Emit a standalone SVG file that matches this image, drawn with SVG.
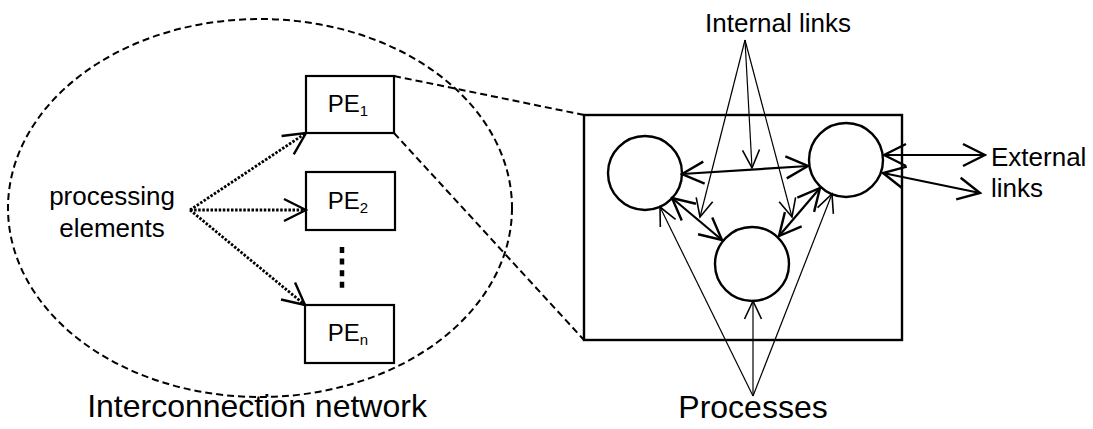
<svg xmlns="http://www.w3.org/2000/svg" width="1093" height="429" viewBox="0 0 1093 429">
  <style>
    text { font-family: "Liberation Sans", Arial, sans-serif; fill: #000; }
    .box { fill: #fff; stroke: #000; stroke-width: 2.2; }
    .proc { fill: #fff; stroke: #000; stroke-width: 2.4; }
    .dash { fill: none; stroke: #000; stroke-width: 2; stroke-dasharray: 7 4; }
    .dot { fill: none; stroke: #000; stroke-width: 2.8; stroke-dasharray: 2.5 1.6; }
    .link { fill: none; stroke: #000; stroke-width: 2.2; }
    .thin { fill: none; stroke: #000; stroke-width: 1.2; }
  </style>
  <defs>
    <marker id="vHead" viewBox="-26 -14 28 28" markerWidth="28" markerHeight="28" refX="0" refY="0" orient="auto-start-reverse" markerUnits="userSpaceOnUse">
      <path d="M-22,-11 L0,0 L-22,11" fill="none" stroke="#000" stroke-width="2.4" stroke-dasharray="none"/>
    </marker>
    <marker id="vHeadThin" viewBox="-22 -12 24 24" markerWidth="24" markerHeight="24" refX="0" refY="0" orient="auto-start-reverse" markerUnits="userSpaceOnUse">
      <path d="M-18,-8.5 L0,0 L-18,8.5" fill="none" stroke="#000" stroke-width="1.6"/>
    </marker>
  </defs>

  <!-- interconnection network boundary -->
  <g id="network">
    <ellipse cx="260" cy="208" rx="252" ry="189" class="dash"/>
    <text x="257" y="417" font-size="32" text-anchor="middle">Interconnection network</text>
  </g>

  <!-- zoom lines from PE1 to the detail view -->
  <g id="zoom-lines">
    <line x1="394" y1="76" x2="584" y2="115" class="dash"/>
    <line x1="394" y1="133" x2="584" y2="340" class="dash"/>
  </g>

  <g id="label-pe">
    <text x="112" y="205" font-size="26" text-anchor="middle">processing</text>
    <text x="112" y="237" font-size="26" text-anchor="middle">elements</text>
  </g>

  <g id="pe1">
    <rect x="306" y="76" width="88" height="57" class="box"/>
    <text x="348" y="112" font-size="24" text-anchor="middle">PE<tspan font-size="15" dy="4">1</tspan></text>
  </g>
  <g id="pe2">
    <rect x="306" y="172" width="89" height="58" class="box"/>
    <text x="348" y="209" font-size="24" text-anchor="middle">PE<tspan font-size="15" dy="4">2</tspan></text>
  </g>
  <g id="ellipsis">
    <line x1="342" y1="247" x2="342" y2="288" stroke="#000" stroke-width="4.5" stroke-dasharray="6 5.6"/>
  </g>
  <g id="pen">
    <rect x="305" y="305" width="89" height="58" class="box"/>
    <text x="348" y="341" font-size="24" text-anchor="middle">PE<tspan font-size="15" dy="4">n</tspan></text>
  </g>

  <!-- detail view of one processing element -->
  <g id="pe-detail">
    <rect x="584" y="115" width="318" height="225" fill="none" stroke="#000" stroke-width="2.4"/>
  </g>
  <g id="proc-left"><circle cx="645" cy="173" r="37" class="proc"/></g>
  <g id="proc-right"><circle cx="846" cy="160" r="37" class="proc"/></g>
  <g id="proc-bottom"><circle cx="752" cy="264" r="37" class="proc"/></g>

  <g id="label-internal">
    <text x="778" y="32" font-size="26" text-anchor="middle">Internal links</text>
  </g>
  <g id="label-external">
    <text x="991" y="166" font-size="26">External</text>
    <text x="991" y="197" font-size="26">links</text>
  </g>
  <g id="label-processes">
    <text x="753" y="418" font-size="32" text-anchor="middle">Processes</text>
  </g>

  <g id="connectors">
    <!-- dotted pointers to the processing elements -->
    <line x1="190" y1="210" x2="306" y2="133" class="dot" marker-end="url(#vHead)"/>
    <line x1="190" y1="210" x2="306" y2="210" class="dot" marker-end="url(#vHead)"/>
    <line x1="190" y1="210" x2="305" y2="305" class="dot" marker-end="url(#vHead)"/>

    <!-- internal links between processes -->
    <line x1="682" y1="174" x2="808" y2="166" class="link" marker-start="url(#vHead)" marker-end="url(#vHead)"/>
    <line x1="672" y1="198" x2="722" y2="240" class="link" marker-start="url(#vHead)" marker-end="url(#vHead)"/>
    <line x1="820" y1="188" x2="779" y2="236" class="link" marker-start="url(#vHead)" marker-end="url(#vHead)"/>

    <!-- external links -->
    <line x1="884" y1="155" x2="985" y2="155" class="link" marker-start="url(#vHead)" marker-end="url(#vHead)"/>
    <line x1="883" y1="173" x2="980" y2="193" class="link" marker-start="url(#vHead)" marker-end="url(#vHead)"/>

    <!-- "Internal links" pointers -->
    <line x1="745" y1="40" x2="700" y2="217" class="thin" marker-end="url(#vHeadThin)"/>
    <line x1="745" y1="40" x2="752" y2="168" class="thin" marker-end="url(#vHeadThin)"/>
    <line x1="745" y1="40" x2="792" y2="217" class="thin" marker-end="url(#vHeadThin)"/>

    <!-- "Processes" pointers -->
    <line x1="753" y1="396" x2="660" y2="207" class="thin" marker-end="url(#vHeadThin)"/>
    <line x1="753" y1="396" x2="753" y2="301" class="thin" marker-end="url(#vHeadThin)"/>
    <line x1="753" y1="396" x2="832" y2="194" class="thin" marker-end="url(#vHeadThin)"/>
  </g>
</svg>
